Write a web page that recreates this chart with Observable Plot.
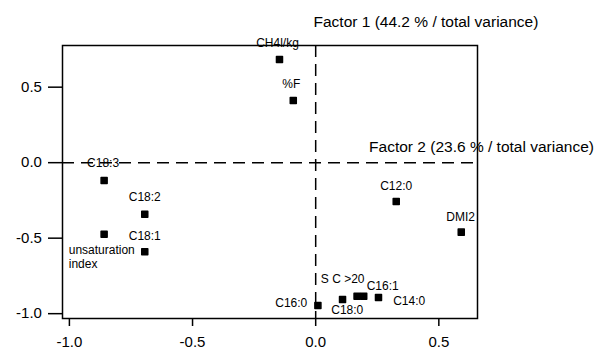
<!DOCTYPE html>
<html>
<head>
<meta charset="utf-8">
<script src="https://cdn.jsdelivr.net/npm/d3@7"></script>
<script src="https://cdn.jsdelivr.net/npm/@observablehq/plot@0.6"></script>
<style>
  html, body { margin: 0; padding: 0; background: white; }
</style>
</head>
<body>
<div id="chart"></div>
<script>
// ---- data ----
const names = ["CH4l/kg", "%F", "C18:3", "C18:2", "unsaturation index", "C18:1",
               "C12:0", "DMI2", "C16:0", "C18:0", "S C >20", "C16:1", "C14:0"];
const factor2 = [-0.147, -0.091, -0.859, -0.694, -0.859, -0.694,
                 0.327, 0.591, 0.009, 0.109, 0.168, 0.195, 0.255];
const factor1 = [0.683, 0.412, -0.118, -0.341, -0.474, -0.590,
                 -0.257, -0.460, -0.946, -0.906, -0.884, -0.884, -0.893];
const xTicks = [-1.0, -0.5, 0.0, 0.5];
const yTicks = [0.5, 0.0, -0.5, -1.0];
const xTitle = "Factor 2 (23.6 % / total variance)";
const yTitle = "Factor 1 (44.2 % / total variance)";

// ---- label placement (styling only) ----
const labelPlace = {
  "CH4l/kg": {dx: -2, dy: -17, anchor: "middle"},
  "%F": {dx: -2, dy: -17, anchor: "middle"},
  "C18:3": {dx: -1, dy: -18, anchor: "middle"},
  "C18:2": {dx: 0, dy: -17.5, anchor: "middle"},
  "unsaturation index": {dx: -35.4, dy: 9.5, anchor: "start", line: "top", wrap: true},
  "C18:1": {dx: 0, dy: -16, anchor: "middle"},
  "C12:0": {dx: 0, dy: -16, anchor: "middle"},
  "DMI2": {dx: -0.7, dy: -16, anchor: "middle"},
  "C16:0": {dx: -10.6, dy: -3.3, anchor: "end"},
  "C18:0": {dx: 4.7, dy: 10.3, anchor: "middle"},
  "S C >20": {dx: -14.4, dy: -18, anchor: "middle"},
  "C16:1": {dx: 19, dy: -10.7, anchor: "middle"},
  "C14:0": {dx: 14.7, dy: 3, anchor: "start"}
};

const rows = names.map((name, i) => ({name, x: factor2[i], y: factor1[i]}));
const fmt = d => d.toFixed(1);
const font = "'Liberation Sans', Arial, Helvetica, sans-serif";

const labelMarks = rows.map(r => {
  const p = labelPlace[r.name];
  return Plot.text([r], {
    x: "x", y: "y",
    text: d => p.wrap ? d.name.replace(" ", "\n") : d.name,
    dx: p.dx, dy: p.dy,
    textAnchor: p.anchor,
    lineAnchor: p.line || "middle",
    lineHeight: 1.17,
    fontSize: 12,
    fill: "black"
  });
});

const chart = Plot.plot({
  width: 600,
  height: 350,
  marginLeft: 62,
  marginRight: 123,
  marginTop: 45,
  marginBottom: 32,
  x: {domain: [-1.028, 0.657]},
  y: {domain: [-1.032, 0.776]},
  style: {fontFamily: font, fontSize: "15px", background: "white", color: "black", overflow: "visible"},
  marks: [
    Plot.ruleY([0], {stroke: "black", strokeWidth: 1.5, strokeDasharray: "12,7"}),
    Plot.ruleX([0], {stroke: "black", strokeWidth: 1.5, strokeDasharray: "12,7"}),
    Plot.frame({stroke: "black", strokeWidth: 1.5}),
    Plot.axisX(xTicks, {tickSize: 8, tickPadding: 10, tickFormat: fmt, strokeWidth: 1.5, label: null, fontSize: 15}),
    Plot.axisY(yTicks, {tickSize: 14, tickPadding: 6.6, tickFormat: fmt, strokeWidth: 1.5, label: null, fontSize: 15}),
    Plot.dot(rows, {x: "x", y: "y", symbol: "square", r: 3.4, fill: "black", stroke: "black", strokeWidth: 1.5, strokeLinejoin: "round"}),
    ...labelMarks,
    Plot.text([yTitle], {frameAnchor: "top-left", dx: 251, dy: -29.5, textAnchor: "start", fontSize: 15.5, fill: "black"}),
    Plot.text([xTitle], {y: [0], frameAnchor: "right", dx: -108.4, dy: -15.3, textAnchor: "start", fontSize: 15.5, fill: "black"})
  ]
});
document.getElementById("chart").appendChild(chart);
</script>
</body>
</html>
